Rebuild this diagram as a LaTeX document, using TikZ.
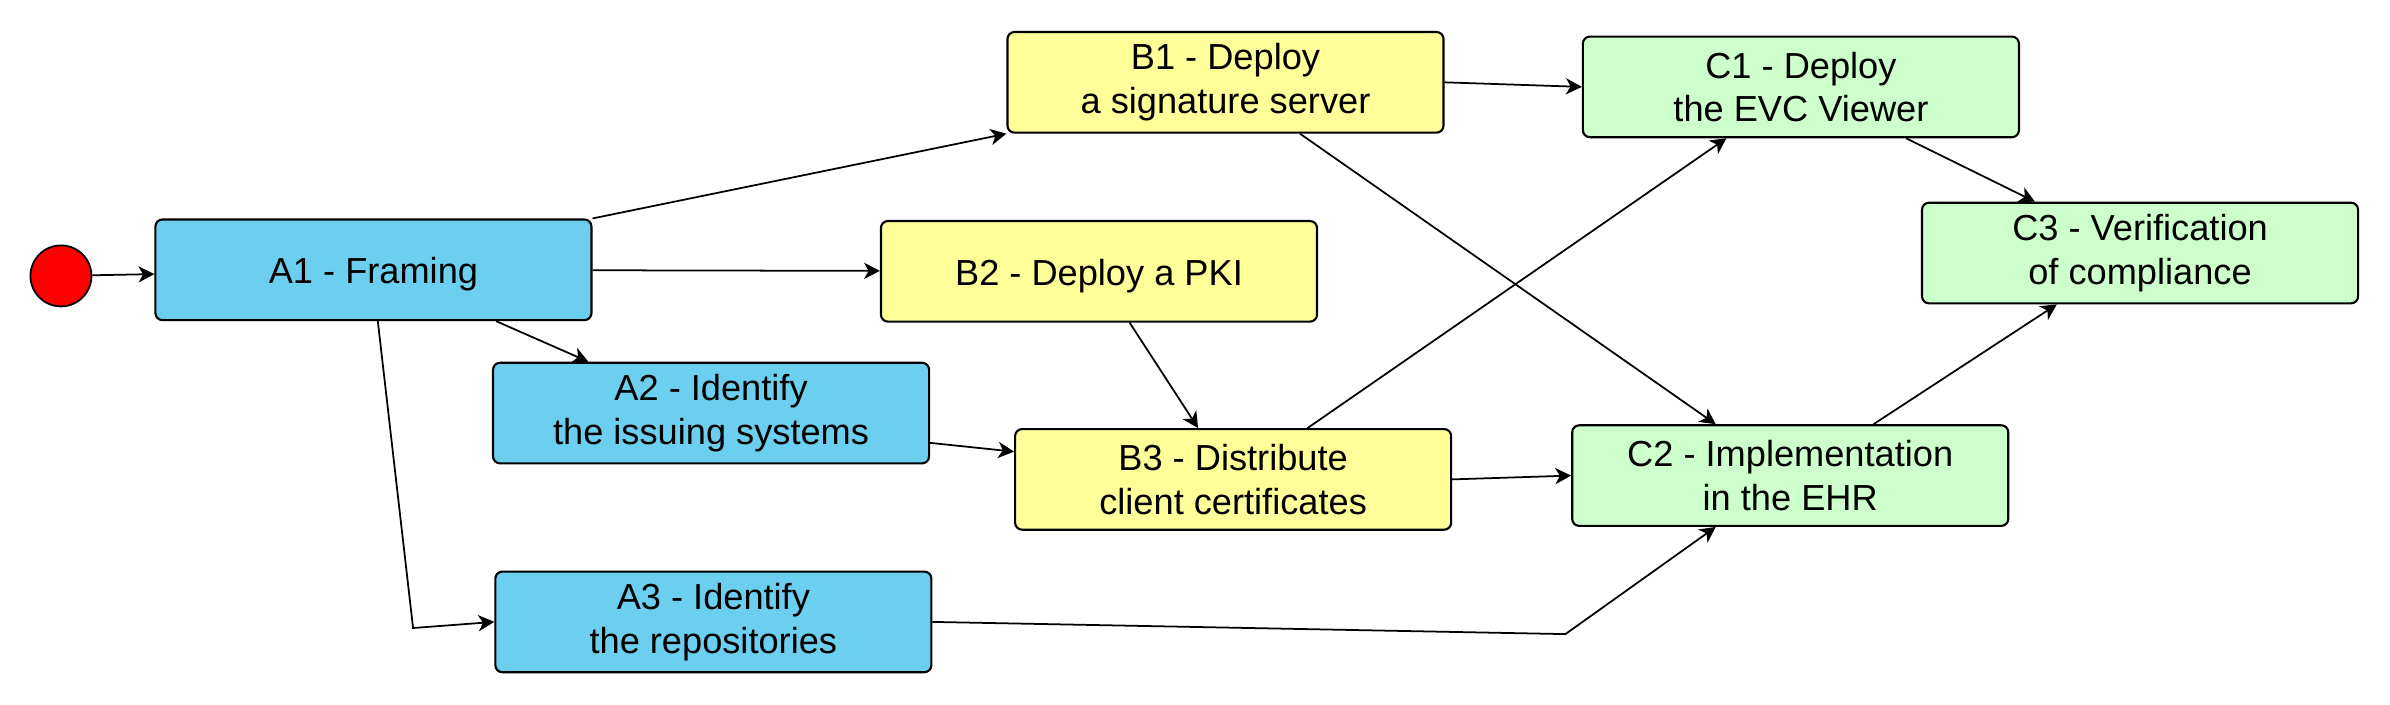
\documentclass[tikz,border=0pt]{standalone}
\usepackage{fontspec}
\setmainfont{Liberation Sans}
\usetikzlibrary{arrows.meta,calc}
\definecolor{taskblue}{RGB}{109,207,240}
\definecolor{taskyellow}{RGB}{255,255,153}
\definecolor{taskgreen}{RGB}{204,255,204}
\begin{document}
\begin{tikzpicture}[x=0.1524mm, y=-0.1524mm, line width=0.5pt,
    task/.style={draw, line width=0.6pt, rounded corners=2pt, minimum width=43.6mm,
      minimum height=10.06mm, align=center, inner sep=1pt,
      font=\fontsize{10.3}{12.4}\selectfont,
      execute at begin node=\rule{0pt}{10pt}},
    link/.style={-{Stealth[length=4.5pt, width=4.6pt, inset=1.3pt]}}]
  \useasboundingbox (0,0) rectangle (1568,462);
  % start point
  \node[circle, draw, fill=red, minimum size=6.1mm, inner sep=0pt] (start) at (40,181) {};
  % phase A
  \node[task, fill=taskblue] (A1) at (245,177) {A1 - Framing};
  \node[task, fill=taskblue] (A2) at (466.5,271) {A2 - Identify\\the issuing systems};
  \node[task, fill=taskblue] (A3) at (468,408) {A3 - Identify\\the repositories};
  % phase B
  \node[task, fill=taskyellow] (B1) at (804,54) {B1 - Deploy\\a signature server};
  \node[task, fill=taskyellow] (B2) at (721,178) {B2 - Deploy a PKI};
  \node[task, fill=taskyellow] (B3) at (809,314.5) {B3 - Distribute\\client certificates};
  % phase C
  \node[task, fill=taskgreen] (C1) at (1181.5,57) {C1 - Deploy\\the EVC Viewer};
  \node[task, fill=taskgreen] (C2) at (1174.5,312) {C2 - Implementation\\in the EHR};
  \node[task, fill=taskgreen] (C3) at (1404,166) {C3 - Verification\\of compliance};
  \coordinate (bendA3) at (271,412);
  \coordinate (bendC2) at (1027,416);
  % links
  \draw[link] (start) -- (A1);
  \draw[link] (A1.north east) -- (B1.south west);
  \draw[link] (A1) -- (B2);
  \draw[link] ($(A1.south west)!0.78!(A1.south east)$) -- ($(A2.north west)!0.22!(A2.north east)$);
  \draw[link] ($(A1.south west)!0.51!(A1.south east)$) -- (bendA3) -- (A3.west);
  \draw[link] ($(A2.north east)!0.79!(A2.south east)$) -- ($(B3.north west)!0.23!(B3.south west)$);
  \draw[link] ($(B2.south west)!0.57!(B2.south east)$) -- ($(B3.north west)!0.42!(B3.north east)$);
  \draw[link] (B1.east) -- (C1.west);
  \draw[link] ($(B1.south west)!0.67!(B1.south east)$) -- ($(C2.north west)!0.33!(C2.north east)$);
  \draw[link] ($(B3.north west)!0.67!(B3.north east)$) -- ($(C1.south west)!0.33!(C1.south east)$);
  \draw[link] (B3.east) -- (C2.west);
  \draw[link] (A3.east) -- (bendC2) -- ($(C2.south west)!0.33!(C2.south east)$);
  \draw[link] ($(C1.south west)!0.74!(C1.south east)$) -- ($(C3.north west)!0.26!(C3.north east)$);
  \draw[link] ($(C2.north west)!0.69!(C2.north east)$) -- ($(C3.south west)!0.31!(C3.south east)$);
\end{tikzpicture}
\end{document}
